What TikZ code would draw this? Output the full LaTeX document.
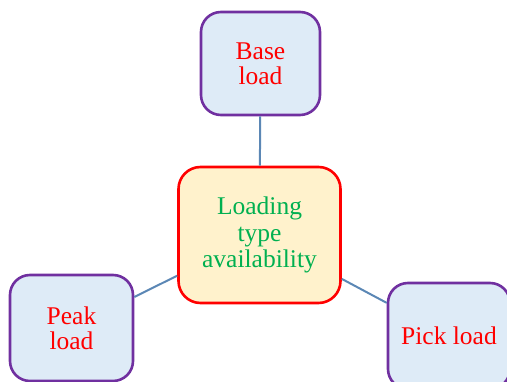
\documentclass[tikz,border=0pt]{standalone}
\usepackage{fontspec}
\setmainfont{Liberation Serif}
\definecolor{outfill}{RGB}{222,235,247}
\definecolor{outline}{RGB}{112,48,160}
\definecolor{cfill}{RGB}{255,242,204}
\definecolor{ctext}{RGB}{0,176,80}
\definecolor{conn}{RGB}{91,135,181}
\begin{document}
\begin{tikzpicture}[x=1pt,y=-1pt,
  outbox/.style={draw=outline,fill=outfill,line width=2.6pt,rounded corners=20pt,
    minimum width=#1,text=red,align=center,inner sep=0pt,
    font=\fontsize{25.5}{25}\selectfont},
  outbox/.default=120pt,
  centerbox/.style={draw=red,fill=cfill,line width=2.6pt,rounded corners=22pt,
    minimum width=162pt,minimum height=136pt,text=ctext,align=center,inner sep=0pt,
    font=\fontsize{25.5}{26.5}\selectfont},
  link/.style={draw=conn,line width=2pt}]
\useasboundingbox (0,0) rectangle (507,382);
\begin{scope}
\clip (0,0) rectangle (507,382);
\node[centerbox] (c) at (259.5,235) {Loading\\type\\availability};
\node[outbox=119pt,minimum height=103pt] (base) at (260.5,63.5) {Base\\load};
\node[outbox=123pt,minimum height=106pt] (peak) at (71.5,328) {Peak\\load};
\node[outbox=122pt,minimum height=106pt] (pick) at (449,336) {Pick load};
\draw[link] (base) -- (c);
\draw[link] (c) -- (peak);
\draw[link] (c) -- (pick);
\end{scope}
\end{tikzpicture}
\end{document}
